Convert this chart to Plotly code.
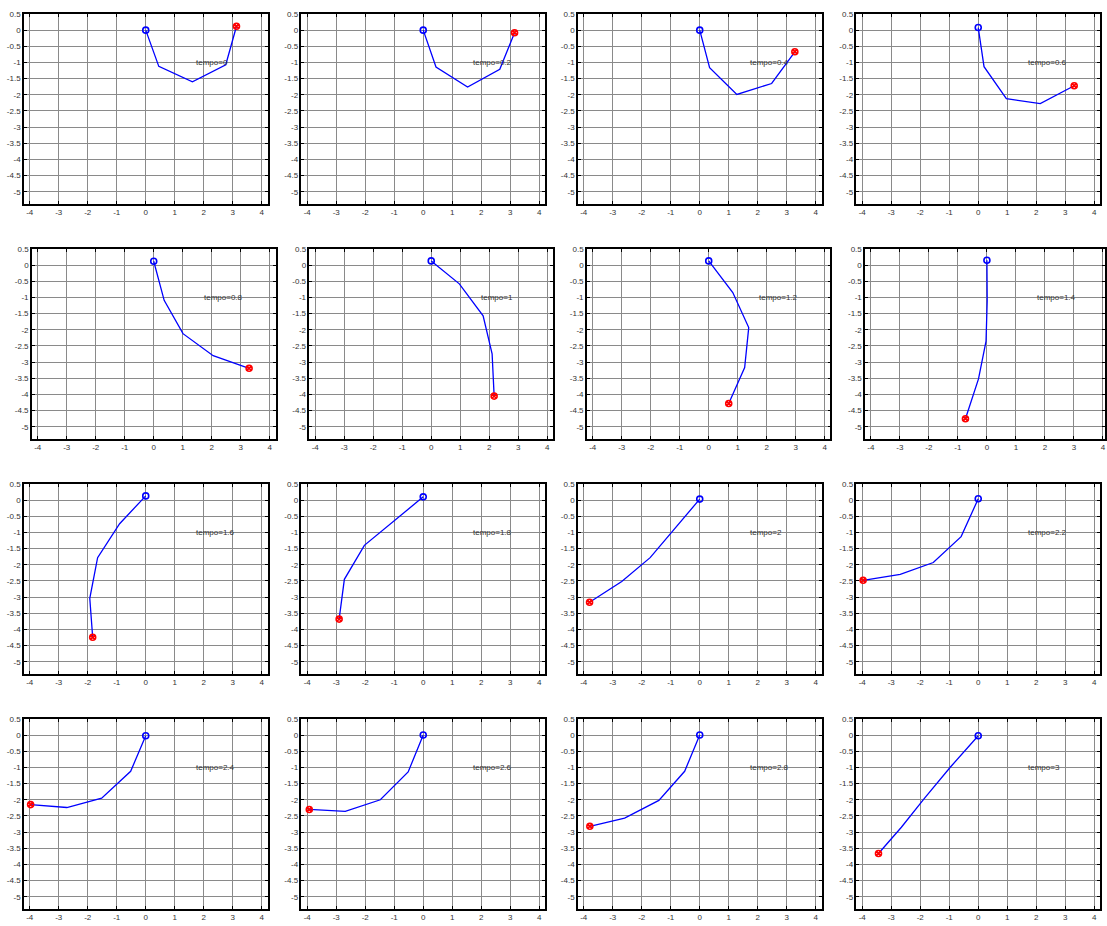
import plotly.graph_objects as go

W, H = 1107, 926

tempos = ["0", "0.2", "0.4", "0.6", "0.8", "1", "1.2", "1.4",
          "1.6", "1.8", "2", "2.2", "2.4", "2.6", "2.8", "3"]

xs_list = [
    [0, 0.45, 1.61, 2.76, 3.13],
    [0, 0.44, 1.53, 2.64, 3.15],
    [0, 0.34, 1.28, 2.48, 3.28],
    [0, 0.20, 0.97, 2.14, 3.31],
    [0, 0.36, 1.01, 2.05, 3.29],
    [0, 0.97, 1.79, 2.10, 2.17],
    [0, 0.83, 1.38, 1.24, 0.69],
    [0, 0.01, -0.03, -0.29, -0.74],
    [0, -0.90, -1.66, -1.93, -1.83],
    [0, -1.00, -2.03, -2.72, -2.90],
    [0, -0.99, -1.71, -2.69, -3.80],
    [0, -0.59, -1.55, -2.69, -3.97],
    [0, -0.52, -1.52, -2.72, -3.97],
    [0, -0.52, -1.48, -2.69, -3.93],
    [0, -0.52, -1.41, -2.59, -3.79],
    [0, -0.95, -1.85, -2.65, -3.44],
]
ys_list = [
    [0, -1.12, -1.60, -1.07, 0.12],
    [0, -1.14, -1.76, -1.21, -0.08],
    [0, -1.16, -1.99, -1.65, -0.67],
    [0.08, -1.13, -2.12, -2.27, -1.72],
    [0.12, -1.09, -2.12, -2.80, -3.19],
    [0.13, -0.58, -1.57, -2.74, -4.05],
    [0.13, -0.85, -1.93, -3.17, -4.28],
    [0.15, -1.10, -2.35, -3.52, -4.75],
    [0.13, -0.73, -1.78, -3.04, -4.24],
    [0.10, -0.65, -1.40, -2.45, -3.68],
    [0.03, -1.03, -1.78, -2.52, -3.16],
    [0.04, -1.13, -1.93, -2.30, -2.48],
    [-0.02, -1.12, -1.95, -2.24, -2.15],
    [0, -1.14, -2.00, -2.36, -2.30],
    [0, -1.12, -2.02, -2.57, -2.82],
    [-0.02, -0.98, -1.95, -2.85, -3.66],
]

x_ticks = [-4, -3, -2, -1, 0, 1, 2, 3, 4]
x_ticktext = ["-4", "-3", "-2", "-1", "0", "1", "2", "3", "4"]
y_ticks = [0.5, 0, -0.5, -1, -1.5, -2, -2.5, -3, -3.5, -4, -4.5, -5]
y_ticktext = ["0.5", "0", "-0.5", "-1", "-1.5", "-2", "-2.5", "-3", "-3.5", "-4", "-4.5", "-5"]

# layout geometry (pixels)
row_tops = [10, 246, 482, 718]
row_x0 = [[146, 424, 701, 980], [154, 432, 710, 988.7],
          [146, 424, 701, 980], [146, 424, 701, 980]]
PW, PH = 244, 191
XMIN, XMAX = -4.2, 4.2
YMIN, YMAX = -5.38, 0.5
pxu = PW / (XMAX - XMIN)

fig = go.Figure()
font = dict(family="Liberation Sans, Arial, sans-serif", size=8, color="#333333")

for i in range(16):
    r, c = divmod(i, 4)
    x0px = row_x0[r][c]
    left = x0px + XMIN * pxu
    right = min(left + PW, W)
    xr = [XMIN, XMIN + (right - left) / pxu]
    top = row_tops[r]
    bot = top + PH
    n = i + 1
    xa = "x" if n == 1 else f"x{n}"
    ya = "y" if n == 1 else f"y{n}"
    xk = "xaxis" if n == 1 else f"xaxis{n}"
    yk = "yaxis" if n == 1 else f"yaxis{n}"
    axcommon = dict(showgrid=True, gridcolor="#8a8a8a", gridwidth=1.2,
                    showline=True, linecolor="black", linewidth=1.5,
                    mirror="allticks", ticks="inside", ticklen=3,
                    tickcolor="black", tickfont=font, zeroline=False,
                    fixedrange=True)
    fig.update_layout({
        xk: dict(domain=[left / W, right / W], range=xr, anchor=ya,
                 tickvals=x_ticks, ticktext=x_ticktext, **axcommon),
        yk: dict(domain=[1 - bot / H, 1 - top / H], range=[YMIN, YMAX], anchor=xa,
                 tickvals=y_ticks, ticktext=y_ticktext, **axcommon),
    })
    xs, ys = xs_list[i], ys_list[i]
    fig.add_trace(go.Scatter(x=xs, y=ys, mode="lines", xaxis=xa, yaxis=ya,
                             line=dict(color="#0000ff", width=1.3),
                             showlegend=False, hoverinfo="skip"))
    fig.add_trace(go.Scatter(x=[xs[0]], y=[ys[0]], mode="markers", xaxis=xa, yaxis=ya,
                             marker=dict(symbol="circle-open", size=6, color="#0000ff",
                                         line=dict(color="#0000ff", width=1.6)),
                             showlegend=False, hoverinfo="skip"))
    fig.add_trace(go.Scatter(x=[xs[-1]], y=[ys[-1]], mode="markers", xaxis=xa, yaxis=ya,
                             marker=dict(symbol="circle-x-open", size=6, color="#ff0000",
                                         line=dict(color="#ff0000", width=1.6)),
                             showlegend=False, hoverinfo="skip"))
    fig.add_annotation(x=1.65, y=-1.0, xref=xa, yref=ya, text="tempo=" + tempos[i],
                       showarrow=False, xanchor="left", yanchor="middle",
                       font=dict(family="Liberation Sans, Arial, sans-serif", size=8,
                                 color="#333333"))

fig.update_layout(width=W, height=H, margin=dict(l=0, r=0, t=0, b=0),
                  paper_bgcolor="white", plot_bgcolor="white", showlegend=False)

fig.write_html("out.html")
